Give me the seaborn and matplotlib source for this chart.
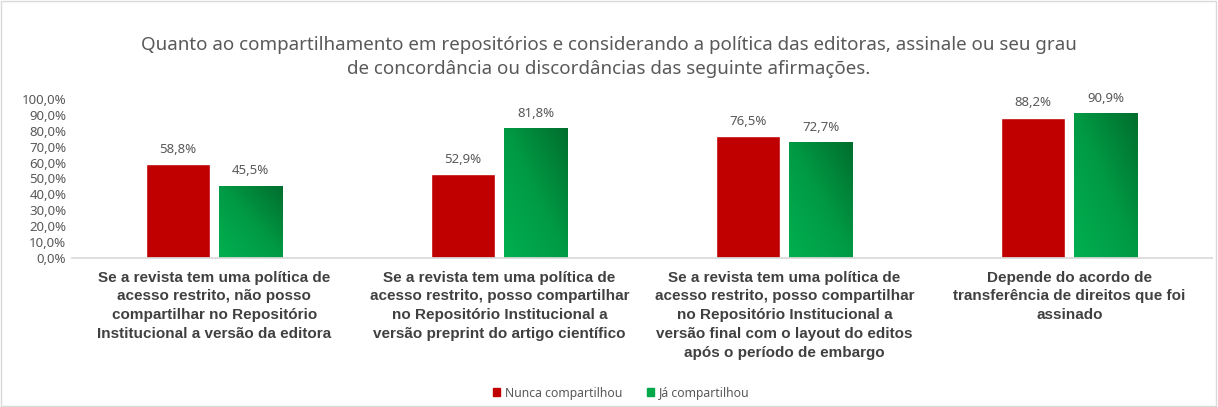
import numpy as np
import pandas as pd
import matplotlib
matplotlib.use("Agg")
import matplotlib.pyplot as plt
import matplotlib.patches as mpatches
from matplotlib.colors import LinearSegmentedColormap
from matplotlib.ticker import FuncFormatter
import seaborn as sns

# ------------------------------------------------------
# dados
# ------------------------------------------------------
categorias = [
    "Se a revista tem uma política de\nacesso restrito, não posso\ncompartilhar no Repositório\nInstitucional a versão da editora",
    "Se a revista tem uma política de\nacesso restrito, posso compartilhar\nno Repositório Institucional a\nversão preprint do artigo científico",
    "Se a revista tem uma política de\nacesso restrito, posso compartilhar\nno Repositório Institucional a\nversão final com o layout do editos\napós o período de embargo",
    "Depende do acordo de\ntransferência de direitos que foi\nassinado",
]
series = ["Nunca compartilhou", "Já compartilhou"]
nunca = [58.8, 52.9, 76.5, 88.2]
ja = [45.5, 81.8, 72.7, 90.9]

df = pd.DataFrame({
    "categoria": categorias * 2,
    "grupo": [series[0]] * 4 + [series[1]] * 4,
    "valor": nunca + ja,
})

cor_vermelho = "#c00000"
cor_verde = "#00a84a"
cinza = "#595959"

sns.set_theme(style="white")
plt.rcParams["font.family"] = ["Noto Sans", "DejaVu Sans"]

fig = plt.figure(figsize=(12.18, 4.07), dpi=100)
ax = fig.add_axes([0.059, 0.366, 0.936, 0.391])

sns.barplot(data=df, x="categoria", y="valor", hue="grupo",
            palette=[cor_vermelho, cor_verde], width=0.51, gap=0.12,
            saturation=1, ax=ax, legend=True)

ax.set_ylim(0, 100)
ax.set_xlim(-0.5, 3.5)
ax.set_yticks(np.arange(0, 101, 10))
ax.yaxis.set_major_formatter(FuncFormatter(lambda v, p: f"{v:.1f}%".replace(".", ",")))
ax.tick_params(axis="y", labelsize=9.5, colors=cinza, length=0, pad=4)
ax.tick_params(axis="x", length=0, pad=9)
for lbl in ax.get_xticklabels():
    lbl.set_fontfamily("Liberation Sans")
    lbl.set_fontweight("bold")
    lbl.set_fontsize(11)
    lbl.set_color("#404040")
    lbl.set_linespacing(1.45)
ax.set_xlabel("")
ax.set_ylabel("")
for s in ["top", "right", "left"]:
    ax.spines[s].set_visible(False)
ax.spines["bottom"].set_color("#d9d9d9")

# degradê nas barras verdes
cmap_verde = LinearSegmentedColormap.from_list("verde", ["#00b050", "#009a44", "#006e2e"])
gx, gy = np.meshgrid(np.linspace(0, 1, 50), np.linspace(0, 1, 50))
grad = (gx + gy) / 2
for barra in ax.containers[1]:
    x0, y0 = barra.get_x(), barra.get_y()
    w, h = barra.get_width(), barra.get_height()
    im = ax.imshow(grad, cmap=cmap_verde, extent=[x0, x0 + w, y0, y0 + h],
                   origin="lower", aspect="auto", zorder=barra.get_zorder())
    im.set_clip_path(barra)
    barra.set_facecolor("none")
ax.set_xlim(-0.5, 3.5)
ax.set_ylim(0, 100)

for cont in ax.containers:
    ax.bar_label(cont, labels=[f"{b.get_height():.1f}%".replace(".", ",") for b in cont],
                 padding=6, fontsize=9.5, color=cinza)

ax.get_legend().remove()
handles = [mpatches.Patch(color=cor_vermelho), mpatches.Patch(color=cor_verde)]
fig.legend(handles, series, loc="center", bbox_to_anchor=(0.51, 0.034), ncol=2,
           frameon=False, fontsize=8.8, handlelength=0.6, handleheight=0.6,
           handletextpad=0.4, columnspacing=2.0, labelcolor=cinza)

fig.text(0.5, 0.86,
         "Quanto ao compartilhamento em repositórios e considerando a política das editoras, assinale ou seu grau\n"
         "de concordância ou discordâncias das seguinte afirmações.",
         ha="center", va="center", fontsize=13.5, color=cinza, linespacing=1.38)

fig.patches.append(mpatches.Rectangle((0.001, 0.003), 0.997, 0.994, transform=fig.transFigure,
                                      fill=False, edgecolor="#d9d9d9", linewidth=1))

fig.savefig("out.png", dpi=100)
